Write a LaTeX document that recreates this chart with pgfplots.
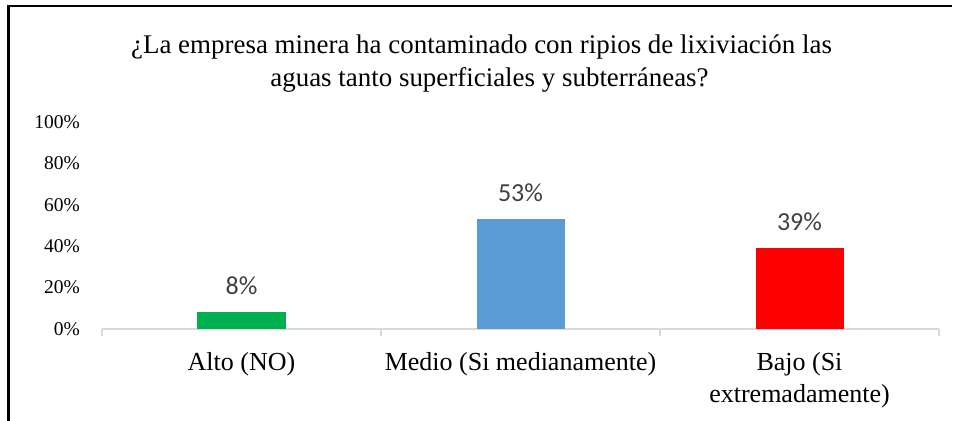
\documentclass[border=0pt]{standalone}
\usepackage{pgfplots}
\pgfplotsset{compat=1.18}
\usepackage{fontspec}
\setmainfont{Liberation Serif}
\newfontfamily\calib{Carlito}
\definecolor{cgreen}{HTML}{00B050}
\definecolor{cblue}{HTML}{5B9BD5}
\definecolor{cred}{HTML}{FF0000}
\definecolor{labgray}{HTML}{404040}
\definecolor{axgray}{HTML}{D9D9D9}
\begin{document}
\begin{tikzpicture}[x=0.75pt,y=0.75pt]
\path[use as bounding box] (0,0) rectangle (958,421);
\draw[line width=1.9pt] (8.7,0) -- (8.7,414.8) -- (952,414.8);
\node[anchor=base, font=\fontsize{20.2}{24}\selectfont, inner sep=0pt] at (481.5,367) {¿La empresa minera ha contaminado con ripios de lixiviación las};
\node[anchor=base, font=\fontsize{20.2}{24}\selectfont, inner sep=0pt] at (489.5,334) {aguas tanto superficiales y subterráneas?};
\begin{axis}[
  at={(76.5pt,69pt)}, anchor=south west,
  scale only axis, width=627.75pt, height=155.25pt,
  xmin=-0.5, xmax=2.5, ymin=0, ymax=100,
  axis x line=bottom, axis y line=left,
  x axis line style={draw=axgray, line width=1.2pt, -},
  y axis line style={draw=none, -},
  /pgf/number format/assume math mode=true,
  xtick={-0.5,0.5,1.5,2.5}, xticklabels={},
  xtick style={draw=axgray, line width=1.2pt},
  major tick length=5.25pt, tick align=outside,
  extra x ticks={0,1,2},
  extra x tick labels={Alto (NO),Medio (Si medianamente),{Bajo (Si\\extremadamente)}},
  extra x tick style={major tick length=0pt},
  xticklabel style={font=\fontsize{19.5}{23.5}\selectfont, align=center, anchor=north, inner sep=0pt, yshift=-17.6pt},
  ytick={0,20,40,60,80,100},
  yticklabels={0\%,20\%,40\%,60\%,80\%,100\%},
  ytick style={draw=none},
  yticklabel style={font=\fontsize{14.6}{18}\selectfont, anchor=east, inner sep=0pt, xshift=-11.25pt},
  nodes near coords={\pgfmathprintnumber{\pgfplotspointmeta}\%},
  nodes near coords style={font=\calib\fontsize{19.5}{20}\selectfont, text=labgray, anchor=base, yshift=13.5pt},
  clip=false,
]
\addplot[ybar, bar width=66pt, bar shift=0pt, fill=cgreen, draw=none] coordinates {(0,8)};
\addplot[ybar, bar width=66pt, bar shift=0pt, fill=cblue, draw=none] coordinates {(1,53)};
\addplot[ybar, bar width=66pt, bar shift=0pt, fill=cred, draw=none] coordinates {(2,39)};
\end{axis}
\end{tikzpicture}
\end{document}
